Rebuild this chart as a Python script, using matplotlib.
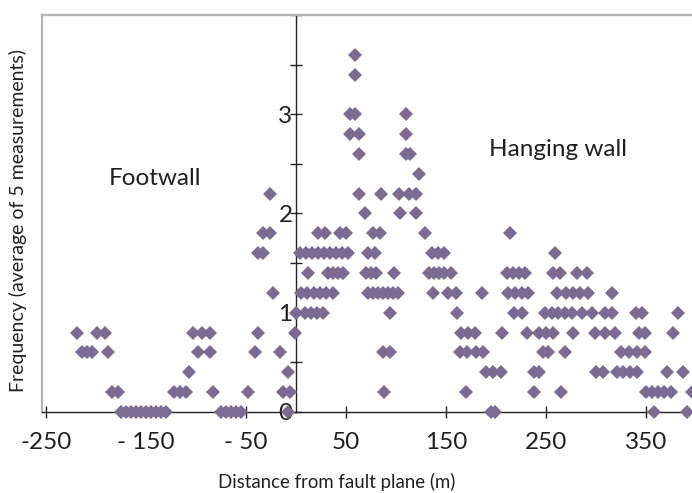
import matplotlib
matplotlib.use("Agg")
import matplotlib.pyplot as plt
from matplotlib.ticker import FixedLocator

plt.rcParams['font.family'] = ['Lato', 'DejaVu Sans']

# Distance (m) of points at each frequency level
f00 = [-175, -170, -165, -160, -155, -150, -145, -140, -135, -130,
       -75, -70, -65, -60, -55, -8, 195, 199, 358, 391]
f02 = [-184, -178, -122, -116, -110, -83, -48, -13, -6, 88, 170, 238, 265,
       350, 356, 362, 368, 375, 396]
f04 = [-107, -8, 190, 197, 205, 238, 243, 300, 307, 321, 327, 334, 341, 371, 387]
f06 = [-214, -209, -204, -188, -98, -86, -41, -16, 87, 94, 164, 171, 180, 187,
       247, 252, 269, 325, 333, 341, 349]
f08 = [-219, -199, -191, -103, -94, -86, -38, -1, 165, 172, 179, 206, 231,
       243, 250, 257, 277, 299, 309, 319, 343, 349, 377]
f10 = [0, 9, 15, 21, 27, 94, 161, 218, 226, 249, 256, 262, 269, 276, 286, 296,
       309, 316, 340, 346, 382]
f12 = [-23, 5, 11, 18, 24, 30, 37, 72, 77, 82, 87, 92, 97, 102, 137, 152, 160,
       186, 212, 219, 226, 232, 261, 270, 277, 284, 292, 316]
f14 = [12, 32, 37, 42, 47, 70, 75, 80, 98, 133, 138, 143, 148, 155, 211, 217,
       223, 229, 257, 264, 281, 291]
f16 = [-38, -33, 4, 10, 16, 22, 28, 34, 40, 46, 52, 72, 79, 136, 142, 148, 259]
f18 = [-33, -26, 22, 29, 44, 50, 77, 84, 129, 214]
f20 = [69, 104, 120]
f22 = [-26, 63, 85, 103, 113, 120]
f24 = [123]
f26 = [63, 110, 114]
f28 = [54, 63, 110]
f30 = [54, 59, 110]
f34 = [59]
f36 = [59]

levels = [0.0, 0.2, 0.4, 0.6, 0.8, 1.0, 1.2, 1.4, 1.6, 1.8, 2.0, 2.2, 2.4,
          2.6, 2.8, 3.0, 3.4, 3.6]
rows = [f00, f02, f04, f06, f08, f10, f12, f14, f16, f18, f20, f22, f24,
        f26, f28, f30, f34, f36]

xtick_vals = [-250, -150, -50, 50, 150, 250, 350]
xtick_labels = ['-250', '- 150', '- 50', '50', '150', '250', '350']
ytick_vals = [0, 1, 2, 3, 4]
ytick_labels = ['0', '1', '2', '3', '']

W, H = 692, 493
fig = plt.figure(figsize=(W / 100, H / 100), dpi=100)
ax = fig.add_axes([42 / W, 81 / H, 650 / W, 397 / H])

xs, ys = [], []
for lv, r in zip(levels, rows):
    xs.extend(r)
    ys.extend([lv] * len(r))

ax.plot(xs, ys, linestyle='none', marker='D', markersize=7.4,
        color='#7b6b93', markeredgewidth=0, clip_on=False, zorder=3)

ax.set_xlim(-254, 396)
ax.set_ylim(0, 4)

# spines
ax.spines['right'].set_visible(False)
ax.spines['top'].set_color('#b4b4b4')
ax.spines['top'].set_linewidth(1.6)
ax.spines['left'].set_position(('data', 0))
ax.spines['left'].set_color('#222222')
ax.spines['left'].set_linewidth(1.0)
ax.spines['bottom'].set_color('#222222')
ax.spines['bottom'].set_linewidth(1.0)
ax.plot([0, 0], [0, 1], transform=ax.transAxes, color='#b4b4b4', lw=1.6,
        clip_on=False, zorder=1)

ax.xaxis.set_major_locator(FixedLocator(xtick_vals))
ax.set_xticklabels(xtick_labels)
ax.yaxis.set_major_locator(FixedLocator(ytick_vals))
ax.set_yticklabels(ytick_labels)
ax.yaxis.set_minor_locator(FixedLocator([0.5, 1.5, 2.5, 3.5]))

ax.tick_params(axis='both', which='both', direction='inout', color='#222222',
               width=1.0, labelcolor='#231f20')
ax.tick_params(axis='x', which='major', length=9, labelsize=17.5, pad=10)
ax.tick_params(axis='y', which='major', length=9, labelsize=17.5, pad=-2)
ax.tick_params(axis='y', which='minor', length=9)

fig.text(337 / W, 1 - 482 / H, 'Distance from fault plane (m)', ha='center',
         va='center', fontsize=13.4, color='#231f20')
fig.text(18 / W, 1 - 221 / H, 'Frequency (average of 5 measurements)',
         ha='center', va='center', rotation=90, fontsize=14, color='#231f20')

ax.text(-141, 2.35, 'Footwall', ha='center', va='center', fontsize=17.5,
        color='#231f20')
ax.text(262, 2.64, 'Hanging wall', ha='center', va='center', fontsize=17.5,
        color='#231f20')

fig.savefig('out.png', dpi=100)
